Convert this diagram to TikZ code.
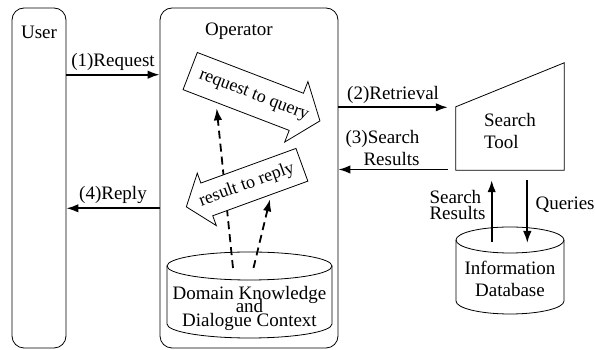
\documentclass[tikz,border=0pt]{standalone}
\usepackage{fontspec}
\setmainfont{Liberation Serif}
\usetikzlibrary{arrows.meta}
\usetikzlibrary{shapes.arrows}

\begin{document}
\begin{tikzpicture}[x=1pt,y=1pt,
  every node/.style={font=\fontsize{19}{22}\selectfont},
  lane/.style={draw, line width=0.8pt, rounded corners=12pt},
  flow/.style={-{Latex[length=12pt,width=8.5pt]}, line width=1.8pt},
  hint/.style={flow, dash pattern=on 8pt off 5pt},
  fat/.style={single arrow, draw, fill=white, line width=0.8pt, single arrow tip angle=104, inner xsep=0pt},
  fattext/.style={font=\fontsize{18}{22}\selectfont},
  drum/.style={line width=0.8pt}]
\useasboundingbox (0,0) rectangle (595,350);

% the two lanes
\node [lane, minimum width=54pt, minimum height=340pt] (user) at (39,172) {};
\node [lane, minimum width=178pt, minimum height=340pt] (oper) at (249,172) {};
\node (userlbl) at (39,318) {User};
\node (operlbl) at (239,319) {Operator};

% search tool and information database
\node [minimum width=108pt, minimum height=107pt] (tool) at (510,233.5) {};
\draw [drum] (tool.south west) -- (tool.south east) -- (tool.north east) -- ([yshift=-44pt]tool.north west) -- cycle;
\node [align=left] (toolname) at (510,218.5) {Search\\Tool};
\coordinate (toolin) at ([xshift=-8pt]tool.west);
\draw [drum] (456,110) -- (456,49) arc [start angle=180, end angle=360, x radius=54, y radius=13] -- (564,110);
\draw [drum] (510,110) ellipse [x radius=54, y radius=13];
\coordinate (dbtop) at (510,110);
\node [align=center] (infodb) at (510,71.5) {Information\\Database};

% knowledge drum inside the operator
\draw [drum] (167,84) -- (167,26) arc [start angle=180, end angle=360, x radius=82.5, y radius=14] -- (332,84);
\draw [drum] (249.5,84) ellipse [x radius=82.5, y radius=14];
\coordinate (kbtop) at (249.5,84);
\node [align=center, font={\fontsize{19}{13.5}\selectfont\lineskiplimit=-20pt}] (kb) at (249.5,42) {Domain Knowledge\\and\\Dialogue Context};

% dashed lookups, drawn before the fat arrows
\coordinate (ask) at (216.7,241.7);
\coordinate (tell) at (270,150.7);
\draw [hint] ([shift={(-16.5,-2)}]kbtop) -- (ask);
\draw [hint] ([shift={(4,-2)}]kbtop) -- (tell);

% fat arrows
\node [fat, rotate=-21, minimum height=139pt, inner ysep=19.5pt, single arrow head extend=12.5pt] (toquery) at (247.8,256.8) {};
\node [fattext, rotate=-21] (qtext) at (253.5,254) {request to query};
\node [fat, shape border rotate=180, rotate=20, minimum height=123pt, inner ysep=17pt, single arrow head extend=10.5pt] (toreply) at (250.5,166.5) {};
\node [fattext, rotate=20] (rtext) at (246.8,165) {result to reply};

% messages
\draw [flow] (user.east |- 0,275.3) -- node [above] (req) {(1)Request} (oper.west |- 0,275.3);
\draw [flow] (oper.west |- 0,141.7) -- node [above] (rep) {(4)Reply} (user.east |- 0,141.7);
\draw [flow] (oper.east |- 0,242.7) -- node [above] (ret) {(2)Retrieval} (toolin |- 0,242.7);
\draw [flow] (toolin |- 0,180.5) -- (oper.east |- 0,180.5);
\node [align=right, anchor=east] (res) at (423,202) {(3)Search\\Results};

% tool <-> database
\draw [flow] ([shift={(-18.3,-2)}]dbtop) -- node [left, xshift=-2pt, yshift=6pt, align=left, font=\fontsize{19}{16}\selectfont] (found) {Search\\Results} ([shift={(-18.3,-10)}]tool.south);
\draw [flow] ([shift={(17.3,-10)}]tool.south) -- node [right, xshift=4pt, yshift=7pt] (qry) {Queries} ([shift={(17.3,-3)}]dbtop);
\end{tikzpicture}
\end{document}
